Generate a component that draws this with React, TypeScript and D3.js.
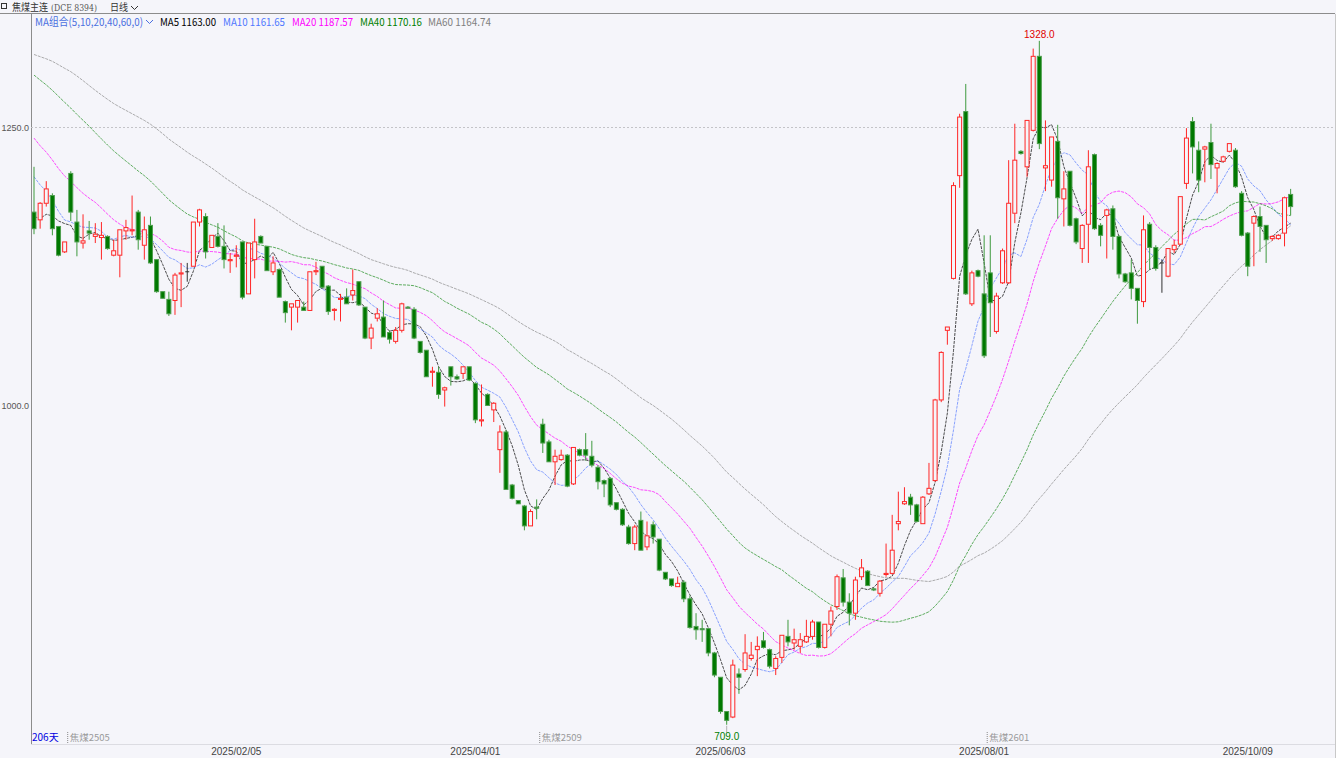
import React from "react";
import * as d3 from "d3";

// ---------- data ----------
const opens = [
  1173,1166,1181,1188,1160,1137,1208,1164,1145,1156,
  1151,1150,1151,1134,1134,1156,1156,1173,1143,1161,
  1130,1101,1094,1093,1117,1119,1124,1164,1169,1141,
  1151,1142,1129,1133,1146,1099,1130,1151,1142,1119,
  1121,1092,1087,1087,1087,1084,1119,1124,1106,1084,
  1094,1096,1098,1110,1087,1059,1077,1078,1064,1056,
  1066,1087,1085,1056,1048,1028,1028,1012,1033,1024,
  1027,1033,1018,984,1008,994,958,974,926,912,
  907,889,906,981,965,947,949,953,927,958,
  958,952,942,930,932,910,904,888,873,894,
  870,890,877,847,841,834,838,823,798,796,
  796,774,752,721,716,755,759,769,777,785,
  777,760,770,789,783,780,784,789,802,779,
  800,816,842,820,810,843,848,832,828,845,
  846,891,909,915,908,891,918,930,1003,1066,
  1113,1206,1264,1090,1120,1099,1118,1065,1109,1109,
  1172,1228,1214,1247,1314,1213,1202,1237,1185,1210,
  1167,1140,1162,1225,1161,1170,1176,1151,1117,1118,
  1104,1092,1162,1141,1127,1115,1139,1144,1199,1255,
  1229,1230,1236,1213,1219,1228,1229,1190,1154,1163,
  1169,1161,1149,1149,1154,1189,
];
const highs = [
  1214,1182,1201,1190,1160,1146,1210,1175,1171,1165,
  1163,1164,1152,1148,1157,1166,1188,1175,1169,1169,
  1130,1101,1101,1118,1127,1127,1164,1176,1172,1152,
  1163,1161,1136,1143,1146,1145,1167,1152,1142,1133,
  1122,1093,1090,1093,1092,1119,1128,1124,1107,1086,
  1099,1104,1121,1110,1087,1072,1086,1093,1066,1069,
  1091,1088,1087,1056,1048,1033,1033,1015,1033,1026,
  1033,1033,1019,1017,1009,1001,980,976,927,912,
  908,904,913,986,967,958,958,954,960,959,
  973,966,944,931,933,910,905,890,890,902,
  893,893,877,847,841,843,840,826,810,804,
  796,775,752,721,768,760,791,784,789,793,
  778,771,790,804,796,792,804,804,802,800,
  816,845,850,828,843,859,849,833,840,873,
  899,920,924,918,909,916,946,1004,1047,1069,
  1200,1262,1289,1120,1121,1152,1152,1100,1140,1220,
  1253,1229,1256,1321,1328,1256,1241,1252,1210,1210,
  1168,1162,1229,1226,1163,1176,1179,1152,1118,1130,
  1104,1170,1164,1143,1130,1140,1148,1187,1249,1259,
  1237,1233,1253,1218,1224,1235,1231,1192,1155,1170,
  1178,1161,1152,1153,1187,1194,
];
const lows = [
  1153,1158,1178,1152,1133,1136,1165,1133,1140,1148,
  1145,1130,1139,1133,1114,1148,1152,1139,1130,1126,
  1100,1095,1079,1080,1087,1110,1124,1160,1131,1141,
  1141,1122,1118,1123,1094,1099,1113,1145,1120,1116,
  1096,1073,1066,1073,1084,1084,1116,1104,1080,1075,
  1074,1090,1093,1088,1058,1049,1074,1060,1054,1054,
  1064,1086,1058,1045,1024,1015,1004,997,1016,1021,
  1022,1020,982,979,998,983,937,922,913,909,
  885,889,895,955,947,926,948,924,926,952,
  948,942,922,915,906,903,889,872,867,867,
  867,873,848,840,834,834,820,796,786,784,
  771,752,719,709,715,737,757,767,753,778,
  760,754,765,780,777,774,783,786,778,778,
  789,813,816,799,804,840,835,830,825,843,
  845,885,908,899,892,891,917,929,1001,1053,
  1112,1195,1098,1088,1114,1041,1060,1063,1108,1108,
  1163,1225,1205,1246,1230,1192,1196,1167,1160,1160,
  1144,1127,1127,1157,1142,1131,1139,1113,1109,1094,
  1072,1087,1121,1120,1100,1114,1136,1143,1194,1208,
  1191,1200,1203,1190,1218,1227,1195,1151,1115,1124,
  1137,1127,1147,1148,1142,1170,
];
const closes = [
  1158,1181,1194,1158,1134,1146,1173,1146,1147,1154,
  1153,1152,1140,1138,1157,1159,1157,1148,1157,1127,
  1101,1095,1081,1116,1118,1119,1164,1175,1137,1152,
  1142,1130,1130,1134,1096,1145,1146,1145,1120,1127,
  1096,1082,1090,1093,1084,1119,1120,1105,1083,1085,
  1095,1090,1102,1089,1059,1068,1081,1060,1058,1066,
  1090,1086,1059,1046,1024,1029,1008,1014,1024,1022,
  1033,1021,985,985,998,1000,974,922,914,909,
  889,902,905,964,947,952,953,925,960,953,
  953,944,929,927,908,904,890,873,888,867,
  880,879,849,841,835,837,823,797,795,795,
  774,754,721,713,763,752,774,772,780,779,
  762,769,790,784,786,786,789,802,779,800,
  812,843,820,810,840,851,835,831,839,846,
  867,893,911,908,893,915,923,1003,1046,1069,
  1197,1259,1099,1118,1115,1043,1091,1097,1138,1181,
  1220,1226,1256,1314,1235,1215,1241,1186,1194,1161,
  1146,1161,1214,1158,1152,1175,1151,1117,1110,1104,
  1093,1157,1141,1122,1127,1140,1143,1187,1240,1232,
  1202,1232,1216,1217,1223,1235,1196,1152,1124,1169,
  1160,1148,1151,1152,1186,1178,
];
// closes before the first visible day, estimated from the MA lines' starting levels
const priorCloses = [
  1300,1310,1295,1320,1340,1355,1380,1400,1420,1415,
  1400,1380,1365,1350,1340,1335,1330,1340,1335,1350,
  1360,1370,1355,1350,1365,1380,1375,1360,1370,1385,
  1380,1360,1350,1345,1340,1335,1330,1325,1320,1325,
  1320,1310,1300,1290,1280,1270,1260,1250,1240,1230,
  1255,1250,1240,1235,1225,
  1190,1175,1165,1157,
];

const maPeriods = [5, 10, 20, 40, 60];
const maNames = ["MA5", "MA10", "MA20", "MA40", "MA60"];
const maLegendValues = ["1163.00", "1161.65", "1187.57", "1170.16", "1164.74"];
const maColors = ["#111111", "#5a7dff", "#ff00ff", "#1c8c1c", "#8a8a8a"];
const maLegendColors = ["#000000", "#4f78ff", "#ff00ff", "#008000", "#808080"];

const yTicks = [1000, 1250];
const dateTickIndex = [33, 72, 112, 155, 198];
const dateTickLabels = ["2025/02/05", "2025/04/01", "2025/06/03", "2025/08/01", "2025/10/09"];
const rollIndex = [6, 83, 156];
const rollLabels = ["焦煤2505", "焦煤2509", "焦煤2601"];

const BG = "#f5f5fa";
const RED = "#ff2626";
const GREEN_FILL = "#007800";
const GREEN_EDGE = "#4e9e4e";
const CJK = "'Noto Sans CJK SC', 'Noto Sans', sans-serif";
const LAT = "'Liberation Sans', Arial, sans-serif";

// legend layout (pixel positions / widths of the header items)
const legendX = [160, 223, 292, 360, 428];
const legendW = [56, 62, 61, 62, 63];

export default function App() {
  const n = closes.length;
  const left = 31, right = 1335, top = 14, bottom = 744;
  const x = d3.scaleLinear().domain([0, n - 1]).range([34, 34 + 6.13 * (n - 1)]);
  const y = d3.scaleLinear().domain([691.6, 1352.3]).range([bottom, top]);
  const bw = 4;

  const all = priorCloses.concat(closes);
  const P = priorCloses.length;
  const mas = maPeriods.map((p) =>
    closes.map((_, i) => d3.mean(all.slice(i + P - p + 1, i + P + 1)) as number)
  );
  const line = d3.line<number>().x((_, i) => x(i)).y((d) => y(d));

  const hiIdx = d3.maxIndex(highs);
  const loIdx = d3.minIndex(lows);

  return (
    <div style={{ position: "fixed", left: 0, top: 0, width: 1336, height: 758, background: BG }}>
      <svg width={1336} height={758} style={{ display: "block" }}>
        <rect x={0} y={0} width={1336} height={758} fill={BG} />
        <defs>
          <clipPath id="plot">
            <rect x={left + 1} y={top + 1} width={right - left - 1} height={bottom - top - 1} />
          </clipPath>
        </defs>

        {/* header row 1 */}
        <g fontFamily={CJK} fontSize={10}>
          <rect x={1.5} y={3.5} width={5} height={5} fill="none" stroke="#333" strokeWidth={1} />
          <text x={12} y={10.8} fill="#333" textLength={36} lengthAdjust="spacingAndGlyphs">焦煤主连</text>
          <text x={51} y={10.8} fill="#555" fontFamily="'DejaVu Serif', serif" fontSize={8.5} textLength={46} lengthAdjust="spacingAndGlyphs">(DCE 8394)</text>
          <text x={110} y={10.8} fill="#333" textLength={18} lengthAdjust="spacingAndGlyphs">日线</text>
          <path d="M131,6 L134.5,9.5 L138,6" fill="none" stroke="#333" strokeWidth={1} />
        </g>
        <line x1={0} x2={right} y1={13.5} y2={13.5} stroke="#8c8c8c" strokeWidth={1} />

        {/* header row 2: MA legend */}
        <g fontFamily={CJK} fontSize={11}>
          <text x={35} y={25.5} fill="#4a6fe0" textLength={108} lengthAdjust="spacingAndGlyphs">MA组合(5,10,20,40,60,0)</text>
          <path d="M146,20 L149.5,23.5 L153,20" fill="none" stroke="#4a6fe0" strokeWidth={1} />
          {maNames.map((nm, k) => (
            <text
              key={nm}
              x={legendX[k]}
              y={25.5}
              fill={maLegendColors[k]}
              textLength={legendW[k]}
              lengthAdjust="spacingAndGlyphs"
            >
              {nm} {maLegendValues[k]}
            </text>
          ))}
        </g>

        {/* frame */}
        <line x1={left + 0.5} x2={left + 0.5} y1={top} y2={bottom} stroke="#8c8c8c" />
        <line x1={right + 0.5} x2={right + 0.5} y1={top} y2={bottom + 14} stroke="#c8c8c8" />
        <line x1={left} x2={right} y1={bottom + 0.5} y2={bottom + 0.5} stroke="#dcdce2" />

        {/* y axis */}
        <g fontFamily={LAT} fontSize={9} fill="#555">
          {yTicks.map((t) => (
            <text key={t} x={29} y={y(t) + (t === 1000 ? 6 : 3.5)} textAnchor="end">
              {t.toFixed(1)}
            </text>
          ))}
        </g>
        <line
          x1={left}
          x2={right}
          y1={Math.round(y(1250)) + 0.5}
          y2={Math.round(y(1250)) + 0.5}
          stroke="#c4c4c8"
          strokeDasharray="2 2"
        />

        <g clipPath="url(#plot)">
          {/* MA lines */}
          {mas.map((m, k) => (
            <path
              key={k}
              d={line(m) || ""}
              fill="none"
              stroke={maColors[k]}
              strokeWidth={1}
              strokeDasharray="3 1"
              opacity={k === 0 ? 0.75 : 0.7}
            />
          ))}

          {/* candles */}
          {closes.map((c, i) => {
            const o = opens[i], h = highs[i], l = lows[i];
            const cx = x(i);
            const yt = y(Math.max(o, c));
            const yb = y(Math.min(o, c));
            if (o === c) {
              return (
                <g key={i}>
                  <line x1={cx} x2={cx} y1={y(h)} y2={y(l)} stroke="#333" />
                  <line x1={cx - bw / 2} x2={cx + bw / 2} y1={yt} y2={yt} stroke="#333" />
                </g>
              );
            }
            if (c > o) {
              return (
                <g key={i}>
                  <line x1={cx} x2={cx} y1={y(h)} y2={yt} stroke={RED} />
                  <line x1={cx} x2={cx} y1={yb} y2={y(l)} stroke={RED} />
                  <rect
                    x={cx - bw / 2}
                    y={yt}
                    width={bw}
                    height={Math.max(yb - yt, 0.8)}
                    fill={BG}
                    stroke={RED}
                    strokeWidth={1}
                  />
                </g>
              );
            }
            return (
              <g key={i}>
                <line x1={cx} x2={cx} y1={y(h)} y2={y(l)} stroke="#3f9a3f" />
                <rect
                  x={cx - bw / 2}
                  y={yt}
                  width={bw}
                  height={Math.max(yb - yt, 0.8)}
                  fill={GREEN_FILL}
                  stroke={GREEN_EDGE}
                  strokeWidth={1}
                />
              </g>
            );
          })}
        </g>

        {/* extreme labels */}
        <text x={x(hiIdx)} y={38} textAnchor="middle" fontFamily={LAT} fontSize={10} fill="#e00000">
          {highs[hiIdx].toFixed(1)}
        </text>
        <line x1={x(loIdx)} x2={x(loIdx)} y1={y(lows[loIdx]) + 1} y2={733} stroke="#b0b0b0" />
        <text x={x(loIdx)} y={740} textAnchor="middle" fontFamily={LAT} fontSize={10} fill="#008000">
          {lows[loIdx].toFixed(1)}
        </text>

        {/* bottom annotations */}
        <text x={32} y={741} fontFamily={CJK} fontSize={10} fill="#0000e0">206天</text>
        {rollIndex.map((ri, k) => {
          const mx = (x(ri) + x(ri - 1)) / 2;
          return (
            <g key={ri}>
              <line x1={mx} x2={mx} y1={732} y2={743} stroke="#888" strokeDasharray="1 1" />
              <text x={mx + 2} y={741} fontFamily={CJK} fontSize={9.5} fill="#9a9a9a">
                {rollLabels[k]}
              </text>
            </g>
          );
        })}

        {/* date axis */}
        <g fontFamily={LAT} fontSize={10} fill="#444">
          {dateTickIndex.map((di, k) => (
            <text key={di} x={x(di)} y={755} textAnchor="middle">
              {dateTickLabels[k]}
            </text>
          ))}
        </g>
      </svg>
    </div>
  );
}
